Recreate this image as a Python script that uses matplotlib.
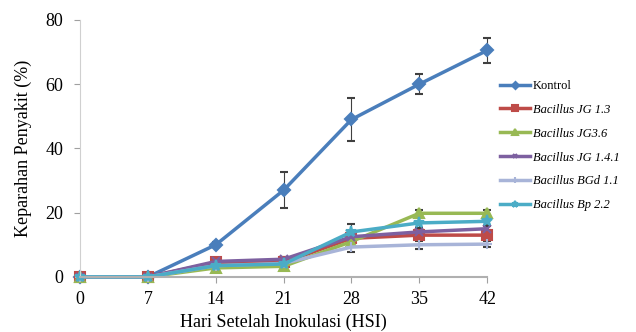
import matplotlib
matplotlib.use("Agg")
import matplotlib.pyplot as plt

plt.rcParams['font.family'] = ['Liberation Serif', 'DejaVu Serif']

# hari setelah inokulasi
hsi = [0, 7, 14, 21, 28, 35, 42]

# keparahan penyakit (%) per perlakuan
kontrol = [0, 0, 10, 27, 49, 60, 70.5]
kontrol_err = [0, 0, 0.8, 5.6, 6.8, 3.2, 4.0]
jg13 = [0, 0, 4.5, 4.5, 12, 13, 13]
jg13_err = [0, 0, 0.5, 0.8, 1.0, 1.2, 1.5]
jg36 = [0, 0, 2.8, 3.3, 11, 19.8, 19.8]
jg36_err = [0, 0, 0.8, 0.8, 1.0, 1.0, 1.0]
jg141 = [0, 0, 4.8, 5.5, 12.5, 14, 15]
jg141_err = [0, 0, 0.5, 0.8, 1.0, 1.0, 1.0]
bgd11 = [0, 0, 3.5, 4.2, 9.3, 10, 10.2]
bgd11_err = [0, 0, 0.5, 0.6, 1.5, 1.2, 1.0]
bp22 = [0, 0, 3.5, 4.0, 14, 16.8, 17.3]
bp22_err = [0, 0, 0.5, 0.8, 2.5, 1.5, 1.5]

series = [
    ('Kontrol', kontrol, kontrol_err, '#4A7EBB', 'D', 6, 'normal'),
    ('Bacillus JG 1.3', jg13, jg13_err, '#BE4B48', 's', 7, 'italic'),
    ('Bacillus JG3.6', jg36, jg36_err, '#98B954', '^', 7, 'italic'),
    ('Bacillus JG 1.4.1', jg141, jg141_err, '#7D60A0', 'x', 6, 'italic'),
    ('Bacillus BGd 1.1', bgd11, bgd11_err, '#A8B4D8', '+', 7, 'italic'),
    ('Bacillus Bp 2.2', bp22, bp22_err, '#4BACC6', '*', 8, 'italic'),
]

fig = plt.figure(figsize=(6.36, 3.32), dpi=100)
ax = fig.add_axes([0.126, 0.166, 0.640, 0.774])

lines = []
for name, y, err, color, marker, ms, style in series:
    eb = ax.errorbar(hsi, y, yerr=err, color=color, marker=marker, markersize=ms,
                     linewidth=2.5, markeredgewidth=1.5, ecolor='#404040',
                     elinewidth=0.8, capsize=3, clip_on=False, label=name)
    lines.append(eb[0])

ax.set_xlim(0, 42)
ax.set_ylim(0, 80)
ax.set_xticks(hsi)
ax.set_yticks([0, 20, 40, 60, 80])
ax.tick_params(axis='both', labelsize=13, direction='out', length=4,
               color='#A0A0A0')
ax.tick_params(axis='y', pad=8)
ax.tick_params(axis='x', pad=6)

for side in ['top', 'right']:
    ax.spines[side].set_visible(False)
ax.spines['left'].set_color('#D0D0D0')
ax.spines['bottom'].set_color('#B0B0B0')
ax.spines['bottom'].set_linewidth(1.5)

ax.set_xlabel('Hari Setelah Inokulasi (HSI)', fontsize=13, labelpad=4)
ax.set_ylabel('Keparahan Penyakit (%)', fontsize=13, labelpad=10)

leg = ax.legend(lines, [s[0] for s in series], loc='upper left',
                bbox_to_anchor=(1.005, 0.81), frameon=False, fontsize=9,
                handlelength=2.4, handletextpad=0.2, labelspacing=0.95,
                markerscale=0.6)
for txt, s in zip(leg.get_texts(), series):
    txt.set_fontstyle(s[6])

fig.savefig('out.png', dpi=100)
